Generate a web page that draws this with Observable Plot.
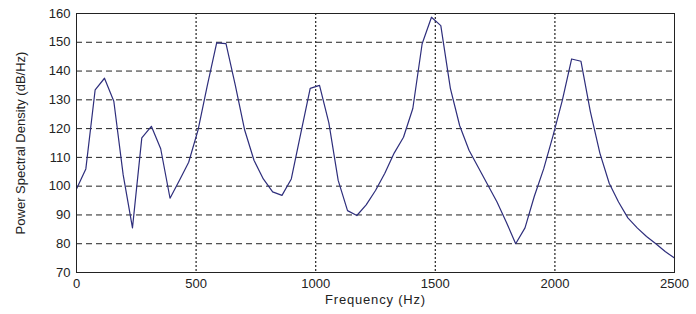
<!DOCTYPE html>
<html>
<head>
<meta charset="utf-8">
<script src="https://cdn.jsdelivr.net/npm/d3@7"></script>
<script src="https://cdn.jsdelivr.net/npm/@observablehq/plot@0.6"></script>
<style>
  html, body { margin: 0; padding: 0; background: #fff; }
  #chart { width: 696px; height: 314px; }
  svg text { font-family: "Liberation Sans", Arial, sans-serif; }
  .xlab text { letter-spacing: 0.8px; }
</style>
</head>
<body>
<div id="chart"></div>
<script>
const frequencies = [0, 39, 78, 117, 156, 195, 234, 273, 313, 352, 391, 430, 469, 508, 547, 586, 625, 664, 703, 742, 781, 820, 859, 898, 938, 977, 1016, 1055, 1094, 1133, 1172, 1211, 1250, 1289, 1328, 1367, 1406, 1445, 1484, 1523, 1563, 1602, 1641, 1680, 1719, 1758, 1797, 1836, 1875, 1914, 1953, 1992, 2031, 2070, 2109, 2148, 2188, 2227, 2266, 2305, 2344, 2383, 2422, 2461, 2500];
const psd = [99, 106, 133.5, 137.5, 129.5, 104, 85.5, 116.8, 120.8, 113, 95.8, 102, 108.3, 119.5, 135, 149.8, 149.5, 135, 119.5, 109, 102.5, 98, 96.8, 102.5, 118.5, 134, 135, 122, 102, 91.5, 89.8, 93.5, 98.5, 104.5, 111.5, 117, 127, 149.5, 158.7, 155.8, 134, 121, 112.5, 106.5, 100.5, 94.5, 87.5, 80, 85.5, 96.5, 106, 117.5, 129.8, 144.2, 143.4, 126, 111.5, 101, 94.5, 89, 85.5, 82.5, 80, 77.3, 75];
const xTicks = [0, 500, 1000, 1500, 2000, 2500];
const yTicks = [70, 80, 90, 100, 110, 120, 130, 140, 150, 160];
const xGrid = [500, 1000, 1500, 2000];
const yGrid = [80, 90, 100, 110, 120, 130, 140, 150];
const xLabel = "Frequency (Hz)";
const yLabel = "Power Spectral Density (dB/Hz)";

const data = frequencies.map((f, i) => ({f, v: psd[i]}));

const chart = Plot.plot({
  width: 696,
  height: 314,
  marginLeft: 76,
  marginRight: 22,
  marginTop: 13,
  marginBottom: 42,
  style: {fontSize: "13px", fontFamily: "'Liberation Sans', Arial, sans-serif", background: "white", color: "#222"},
  x: {domain: [0, 2500]},
  y: {domain: [70, 160]},
  marks: [
    Plot.ruleY(yGrid, {stroke: "#222", strokeWidth: 1, strokeDasharray: "6,4"}),
    Plot.ruleX(xGrid, {stroke: "#222", strokeWidth: 1.2, strokeDasharray: "2,2"}),
    Plot.line(data, {x: "f", y: "v", stroke: "#2e2e7c", strokeWidth: 1.2}),
    Plot.frame({stroke: "#222", strokeWidth: 1}),
    Plot.axisX({ticks: xTicks, tickSize: 0, tickPadding: 6, tickFormat: d => String(d), label: null, fontSize: 13}),
    Plot.axisY({ticks: yTicks, tickSize: 0, tickPadding: 6, tickFormat: d => String(d), label: null, fontSize: 13}),
    Plot.text([xLabel], {frameAnchor: "bottom", dy: 31, text: d => d, fontSize: 13, lineAnchor: "bottom", className: "xlab"}),
    Plot.text([yLabel], {frameAnchor: "left", dx: -56, rotate: -90, textAnchor: "middle", text: d => d, fontSize: 13, fontFamily: "'Liberation Sans Narrow', 'Liberation Sans', sans-serif"})
  ]
});
document.getElementById("chart").appendChild(chart);
</script>
</body>
</html>
